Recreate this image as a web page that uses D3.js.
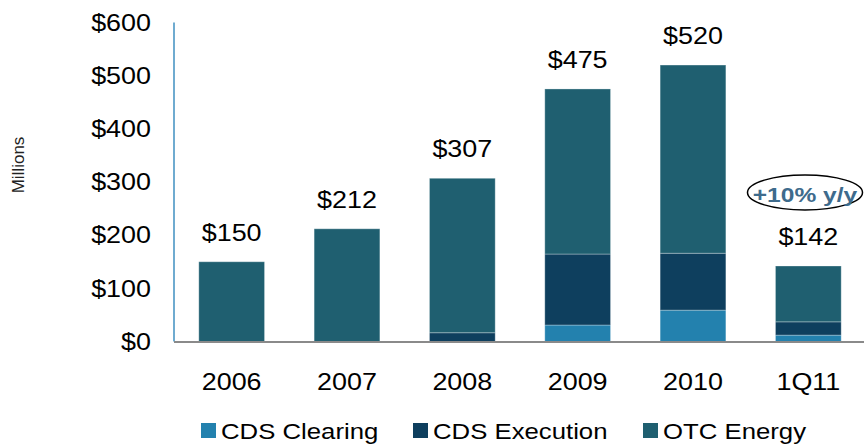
<!DOCTYPE html>
<html>
<head>
<meta charset="utf-8">
<script src="https://cdn.jsdelivr.net/npm/d3@7.9.0/dist/d3.min.js"></script>
<style>
  body { margin: 0; background: #fff; }
  svg { display: block; font-family: "Liberation Sans", Arial, sans-serif; }
</style>
</head>
<body>
<svg id="chart" width="864" height="445"></svg>
<script>
// data (millions of dollars)
const periods = ["2006", "2007", "2008", "2009", "2010", "1Q11"];
const cdsClearing = [0, 0, 0, 31, 59, 12];
const cdsExecution = [0, 0, 16.5, 133.5, 107, 25];
const otcEnergy = [150, 212, 290.5, 310.5, 354, 105];
const totals = [150, 212, 307, 475, 520, 142];
const seriesNames = ["CDS Clearing", "CDS Execution", "OTC Energy"];
const seriesColors = ["#2381ae", "#0e3f5e", "#1f5f70"];
const yTicks = [0, 100, 200, 300, 400, 500, 600];

const svg = d3.select("#chart");
const sx = 1.17; // the source text is a bit wider than Arial

const x = d3.scaleBand().domain(periods).range([174, 866])
  .paddingInner(0.43).paddingOuter(0.215);
const y = d3.scaleLinear().domain([0, 600]).range([341.5, 22.5]);

// build rows for the stack
const rows = periods.map((p, i) => ({
  period: p,
  "CDS Clearing": cdsClearing[i],
  "CDS Execution": cdsExecution[i],
  "OTC Energy": otcEnergy[i]
}));
const stacked = d3.stack().keys(seriesNames)(rows);

svg.append("g").selectAll("g")
  .data(stacked)
  .join("g")
  .attr("fill", (d, i) => seriesColors[i])
  .selectAll("rect")
  .data(d => d.filter(s => s[1] - s[0] > 0))
  .join("rect")
  .attr("x", d => x(d.data.period))
  .attr("width", x.bandwidth())
  .attr("y", d => y(d[1]))
  .attr("height", d => y(d[0]) - y(d[1]))
  .attr("stroke", "rgba(255,255,255,0.3)")
  .attr("stroke-width", 1);

// y axis line
svg.append("line")
  .attr("x1", 174).attr("x2", 174)
  .attr("y1", y(600)).attr("y2", y(0))
  .attr("stroke", "#3f8fc0").attr("stroke-width", 1.5);

// baseline
svg.append("line")
  .attr("x1", 174).attr("x2", 864)
  .attr("y1", y(0) + 0.5).attr("y2", y(0) + 0.5)
  .attr("stroke", "#8a8a8a").attr("stroke-width", 2);

// y tick labels
svg.append("g").selectAll("text")
  .data(yTicks)
  .join("text")
  .attr("transform", d => `translate(151,${y(d) + 8.3}) scale(${sx},1)`)
  .attr("text-anchor", "end")
  .attr("font-size", 23)
  .attr("fill", "#000")
  .text(d => "$" + d);

// x labels
svg.append("g").selectAll("text")
  .data(periods)
  .join("text")
  .attr("transform", d => `translate(${x(d) + x.bandwidth() / 2},390) scale(${sx},1)`)
  .attr("text-anchor", "middle")
  .attr("font-size", 23)
  .attr("fill", "#000")
  .text(d => d);

// totals above bars
svg.append("g").selectAll("text")
  .data(totals)
  .join("text")
  .attr("transform", (d, i) => `translate(${x(periods[i]) + x.bandwidth() / 2},${y(d) - 21}) scale(${sx},1)`)
  .attr("text-anchor", "middle")
  .attr("font-size", 23)
  .attr("fill", "#000")
  .text(d => "$" + d);

// y axis title
svg.append("text")
  .attr("transform", "translate(24,165) rotate(-90)")
  .attr("text-anchor", "middle")
  .attr("font-size", 17)
  .attr("fill", "#222")
  .text("Millions");

// growth callout
svg.append("ellipse")
  .attr("cx", 805).attr("cy", 192.5)
  .attr("rx", 57.5).attr("ry", 17.5)
  .attr("fill", "none")
  .attr("stroke", "#000").attr("stroke-width", 1.5);
svg.append("text")
  .attr("transform", `translate(805,201.5) scale(${sx},1)`)
  .attr("text-anchor", "middle")
  .attr("font-size", 21)
  .attr("font-weight", "bold")
  .attr("fill", "#3e6b8c")
  .text("+10% y/y");

// legend
const legendX = [201, 413, 643];
const legend = svg.append("g").selectAll("g")
  .data(seriesNames)
  .join("g")
  .attr("transform", (d, i) => `translate(${legendX[i]},0)`);
legend.append("rect")
  .attr("x", 0).attr("y", 423)
  .attr("width", 15).attr("height", 15)
  .attr("fill", (d, i) => seriesColors[i]);
legend.append("text")
  .attr("transform", `translate(20,439) scale(${sx},1)`)
  .attr("font-size", 22)
  .attr("fill", "#000")
  .text(d => d);
</script>
</body>
</html>
